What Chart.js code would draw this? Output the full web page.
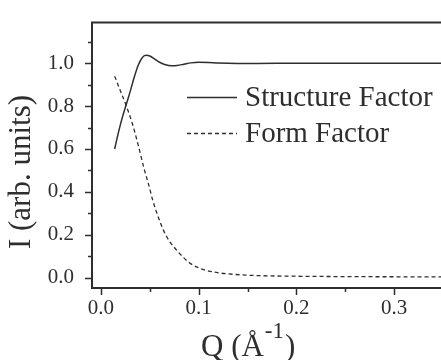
<!DOCTYPE html>
<html>
<head>
<meta charset="utf-8">
<script src="https://cdn.jsdelivr.net/npm/chart.js@4.4.0/dist/chart.umd.min.js"></script>
<style>
html, body { margin: 0; padding: 0; background: #fff; overflow: hidden; }
canvas { display: block; }
</style>
</head>
<body>
<canvas id="sqChart" width="441" height="360"></canvas>
<script>
// values
var qStructure = [0.014, 0.018, 0.022, 0.026, 0.030, 0.034, 0.038, 0.042, 0.046, 0.050, 0.055, 0.060,
                  0.066, 0.072, 0.078, 0.085, 0.092, 0.100, 0.110, 0.120, 0.140, 0.180, 0.250, 0.350];
var iStructure = [0.60, 0.68, 0.75, 0.81, 0.87, 0.935, 0.99, 1.025, 1.037, 1.034, 1.02, 1.005,
                  0.993, 0.988, 0.99, 0.996, 1.002, 1.005, 1.004, 1.001, 0.999, 1.0, 1.0, 1.0];
var qForm = [0.014, 0.020, 0.026, 0.032, 0.038, 0.044, 0.049, 0.053, 0.058, 0.064, 0.070, 0.077,
             0.084, 0.091, 0.100, 0.108, 0.120, 0.135, 0.160, 0.200, 0.260, 0.350];
var iForm = [0.94, 0.87, 0.80, 0.72, 0.62, 0.51, 0.43, 0.36, 0.29, 0.22, 0.17, 0.13,
             0.095, 0.067, 0.045, 0.033, 0.022, 0.015, 0.009, 0.006, 0.004, 0.003];
var seriesNames = ["Structure Factor", "Form Factor"];
var xMajorTicks = [0.0, 0.1, 0.2, 0.3];
var yMajorTicks = [0.0, 0.2, 0.4, 0.6, 0.8, 1.0];

var ink = '#2e2e2e';
var serif = '"Liberation Serif", "Times New Roman", serif';

function toPoints(xs, ys) {
    return xs.map(function (x, i) { return {x: x, y: ys[i]}; });
}

function isMajor(value, majors) {
    return majors.some(function (m) { return Math.abs(m - value) < 1e-6; });
}

// frame, tick marks, axis titles and legend
var frameAndLabels = {
    id: 'frameAndLabels',
    afterDraw: function (chart) {
        var ctx = chart.ctx, area = chart.chartArea;
        var xs = chart.scales.x, ys = chart.scales.y;
        ctx.save();
        ctx.strokeStyle = ink;
        ctx.lineWidth = 2;
        ctx.beginPath();
        ctx.moveTo(area.left, area.top);
        ctx.lineTo(area.right, area.top);
        ctx.moveTo(area.left, area.top - 1);
        ctx.lineTo(area.left, area.bottom + 1);
        ctx.moveTo(area.left - 1, area.bottom);
        ctx.lineTo(area.right, area.bottom);
        ctx.stroke();

        ctx.lineWidth = 1.5;
        ctx.beginPath();
        xs.ticks.forEach(function (t) {
            var px = Math.round(xs.getPixelForValue(t.value)) + 0.5;
            var len = isMajor(t.value, xMajorTicks) ? 7 : 4;
            ctx.moveTo(px, area.bottom);
            ctx.lineTo(px, area.bottom + len);
        });
        ys.ticks.forEach(function (t) {
            var py = Math.round(ys.getPixelForValue(t.value)) + 0.5;
            var len = isMajor(t.value, yMajorTicks) ? 7 : 4;
            ctx.moveTo(area.left, py);
            ctx.lineTo(area.left - len, py);
        });
        ctx.stroke();

        // y title
        ctx.fillStyle = ink;
        ctx.save();
        ctx.translate(22, 172);
        ctx.rotate(-Math.PI / 2);
        ctx.font = '31px ' + serif;
        ctx.textAlign = 'center';
        ctx.textBaseline = 'middle';
        ctx.fillText('I (arb. units)', 0, 0);
        ctx.restore();

        // x title with superscript
        ctx.textAlign = 'left';
        ctx.textBaseline = 'alphabetic';
        var x0 = 201, base = 356;
        ctx.font = '31px ' + serif;
        ctx.fillText('Q (Å', x0, base);
        x0 += ctx.measureText('Q (Å').width + 1;
        ctx.font = '23px ' + serif;
        ctx.fillText('-1', x0, base - 18);
        x0 += ctx.measureText('-1').width + 1;
        ctx.font = '31px ' + serif;
        ctx.fillText(')', x0, base);

        // legend
        var rows = [97, 133];
        ctx.font = '29px ' + serif;
        chart.data.datasets.forEach(function (ds, i) {
            ctx.beginPath();
            ctx.lineWidth = ds.borderWidth;
            ctx.setLineDash(ds.borderDash || []);
            ctx.moveTo(187, rows[i] + 0.5);
            ctx.lineTo(237, rows[i] + 0.5);
            ctx.stroke();
            ctx.setLineDash([]);
            ctx.textBaseline = 'middle';
            ctx.fillText(ds.label, 245, rows[i] + 1);
        });
        ctx.restore();
    }
};

var ctx1 = document.getElementById('sqChart');

var sqChart = new Chart(ctx1, {
    type: 'line',
    data: {
        datasets: [
            {
                label: seriesNames[0],
                data: toPoints(qStructure, iStructure),
                borderColor: ink,
                borderWidth: 1.5,
                pointRadius: 0,
                cubicInterpolationMode: 'monotone',
                fill: false
            },
            {
                label: seriesNames[1],
                data: toPoints(qForm, iForm),
                borderColor: ink,
                borderWidth: 1.3,
                borderDash: [4, 3],
                pointRadius: 0,
                cubicInterpolationMode: 'monotone',
                fill: false
            }
        ]
    },
    options: {
        responsive: false,
        animation: false,
        devicePixelRatio: 1,
        layout: { padding: { top: 9, right: 0, left: 0, bottom: 0 } },
        plugins: {
            legend: { display: false },
            tooltip: { enabled: false }
        },
        scales: {
            x: {
                type: 'linear',
                min: -0.0092,
                max: 0.348,
                grid: { display: false },
                border: { display: false },
                ticks: {
                    stepSize: 0.05,
                    includeBounds: false,
                    autoSkip: false,
                    maxRotation: 0,
                    padding: 0,
                    color: ink,
                    font: { family: serif, size: 21 },
                    callback: function (v) { return isMajor(v, xMajorTicks) ? v.toFixed(1) : ''; }
                },
                afterFit: function (s) { s.height = 72; }
            },
            y: {
                min: -0.049,
                max: 1.19,
                grid: { display: false },
                border: { display: false },
                ticks: {
                    stepSize: 0.1,
                    includeBounds: false,
                    autoSkip: false,
                    padding: 10,
                    color: ink,
                    font: { family: serif, size: 21 },
                    callback: function (v) { return isMajor(v, yMajorTicks) ? v.toFixed(1) : ''; }
                },
                afterFit: function (s) { s.width = 92; }
            }
        }
    },
    plugins: [frameAndLabels]
});
</script>
</body>
</html>
